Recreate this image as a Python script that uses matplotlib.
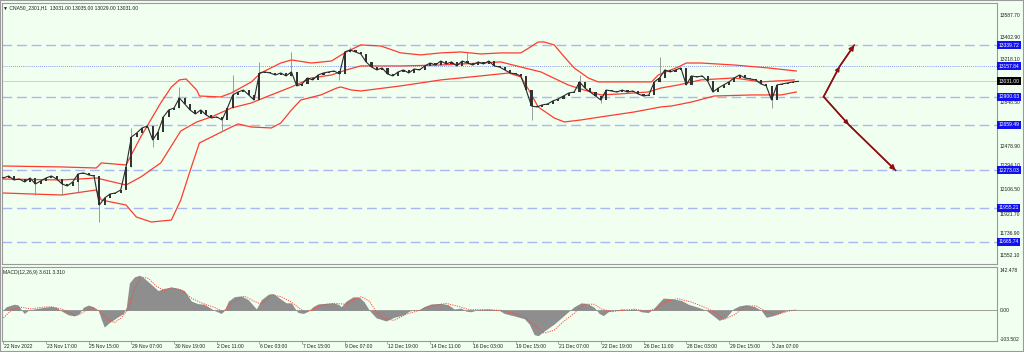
import matplotlib
matplotlib.use("Agg")
import matplotlib.pyplot as plt
from matplotlib import transforms
import matplotlib.patches as mpatches

plt.rcParams['font.family'] = ['Liberation Sans', 'DejaVu Sans']

# ---------------- data ----------------
bars_per_candle = 4
first_open = 12215
closes = [
    12208, 12225, 12191, 12199, 12174, 12208, 12157, 12182, 12208, 12225,
    12199, 12157, 12140, 12174, 12242, 12251, 12234, 12225, 11978, 12038,
    12072, 12080, 12106, 12302, 12557, 12591, 12634, 12651, 12532, 12600,
    12728, 12787, 12804, 12889, 12838, 12787, 12753, 12787, 12745, 12719,
    12728, 12702, 12804, 12915, 12940, 12957, 12915, 12872, 13102, 13111,
    13102, 13085, 13102, 13077, 13111, 12992, 13009, 13060, 13043, 13085,
    13102, 13111, 13119, 13094, 13281, 13298, 13281, 13264, 13196, 13153,
    13128, 13145, 13094, 13077, 13111, 13128, 13102, 13136, 13128, 13162,
    13187, 13170, 13204, 13179, 13196, 13162, 13204, 13187, 13170, 13196,
    13179, 13204, 13162, 13153, 13128, 13102, 13094, 13077, 12957, 12821,
    12813, 12830, 12838, 12864, 12881, 12906, 12932, 12940, 13026, 12974,
    12940, 12906, 12872, 12957, 12949, 12940, 12957, 12940, 12949, 12923,
    12906, 12915, 13026, 13060, 13128, 13111, 13128, 13145, 13000, 13077,
    13068, 13077, 13034, 12940, 12974, 13000, 13026, 13060, 13085, 13060,
    13051, 13043, 13009, 12992, 12872, 13000, 13009, 13017, 13026, 13031,
]
spike_high = {24: 12634, 33: 12983, 43: 13085, 48: 13196, 54: 13281, 65: 13324,
              87: 13281, 108: 13085, 123: 13239}
spike_low = {6: 12063, 11: 12063, 14: 12080, 18: 11833, 28: 12472, 41: 12617,
             63: 13043, 99: 12702, 112: 12847, 144: 12804}

bb_upper_x = [0, 43.5, 69.7, 73.5, 92, 103, 118, 126, 132, 137, 145, 147, 163, 171, 186, 193,
              208, 216, 231, 246, 257, 265, 268, 283, 298, 313, 328, 343, 358, 373, 388, 394,
              401, 405.5, 413, 420.6, 428, 438.5, 446, 473, 486, 491, 506, 512, 523, 548, 573.5, 594.5]
bb_upper = [12310, 12302, 12293, 12336, 12319, 12557, 12847, 12983, 13043, 13051, 12957, 12906,
            12898, 12932, 13026, 13102, 13187, 13213, 13187, 13204, 13281, 13324, 13341, 13332,
            13273, 13256, 13273, 13281, 13264, 13273, 13273, 13315, 13366, 13366, 13341, 13239,
            13145, 13060, 13026, 13026, 13026, 13085, 13153, 13187, 13187, 13170, 13145, 13119]

bb_mid_x = [0, 43.5, 69.7, 92, 103, 118, 133, 145, 156, 171, 186, 197, 216, 231, 246, 257, 268,
            298, 328, 358, 373, 388, 403, 423.5, 435.5, 448, 461, 483.5, 493, 506, 523, 548, 568, 593]
bb_mid = [12199, 12191, 12208, 12148, 12216, 12336, 12608, 12685, 12728, 12804, 12847, 12898,
          12983, 13060, 13085, 13128, 13162, 13162, 13170, 13187, 13196, 13153, 13111, 13000,
          12957, 12915, 12923, 12940, 12974, 13000, 13043, 13060, 13026, 13043]

bb_lower_x = [0, 43.5, 69.7, 73.5, 92, 99.7, 111, 126, 133, 141, 147, 156, 171, 176, 186, 201,
              208, 216, 223, 238, 250, 253, 261, 268, 298, 328, 358, 379, 388, 394, 401, 413,
              420.6, 433, 448, 473, 493, 501, 516, 533, 561, 583, 594.5]
bb_lower = [12080, 12063, 12106, 12020, 11978, 11876, 11833, 11850, 12020, 12302, 12506, 12557,
            12642, 12668, 12642, 12634, 12676, 12787, 12872, 12915, 12974, 12983, 12957, 12949,
            12992, 13043, 13077, 13102, 13068, 12957, 12813, 12719, 12685, 12702, 12728, 12770,
            12813, 12821, 12855, 12906, 12915, 12915, 12940]

levels_dashed = [13339.72, 12900.03, 12659.49, 12273.03, 11955.21, 11665.74]
level_dotted = 13157.84
last_price = 13031.00
price_ticks = [13587.70, 13402.90, 13218.10, 12848.50, 12478.90, 12294.10,
               12106.50, 11921.70, 11736.90, 11552.10]

x_tick_bars = [0, 32, 64, 96, 128, 160, 192, 224, 256, 288, 320, 352, 384, 416, 448, 480,
               512, 544, 576]
x_tick_labels = ["22 Nov 2022", "23 Nov 17:00", "25 Nov 15:00", "29 Nov 07:00", "30 Nov 19:00",
                 "2 Dec 11:00", "6 Dec 03:00", "7 Dec 15:00", "9 Dec 07:00", "12 Dec 19:00",
                 "14 Dec 11:00", "16 Dec 03:00", "19 Dec 15:00", "21 Dec 07:00", "22 Dec 19:00",
                 "26 Dec 11:00", "28 Dec 03:00", "29 Dec 15:00", "3 Jan 07:00"]

macd_x = [0, 2.2, 8.2, 11.2, 13.5, 15.7, 18.7, 23.2, 30.7, 36, 39.7, 43.5, 48.7, 53.2, 57, 60,
          63.7, 67.5, 71.2, 73.5, 75.7, 79.5, 84.7, 90, 92.2, 94.5, 98.2, 102, 105.7, 111, 116,
          120.7, 126, 131, 135.7, 141, 146, 150.7, 158, 163.4, 165.7, 168.7, 173.2, 178.4, 183.7,
          189.7, 193.4, 198.7, 202.4, 207, 212, 216, 218, 221, 225, 228.6, 232.4, 236, 241, 247,
          251, 253.4, 257, 262.4, 267, 270.6, 274.4, 279.6, 287, 293, 300, 304.3, 307.3, 311,
          315.6, 320.8, 328.3, 333.6, 338, 343.3, 347, 350.8, 356, 363.6, 371, 375.6, 383, 390.6,
          394.3, 398, 401, 405.5, 413, 418.3, 423.6, 428, 433.3, 438.5, 443, 446.7, 449.8, 453.5,
          458, 463.3, 468.5, 473, 478.3, 483.5, 487.3, 491, 494.8, 500.7, 508.2, 513.5, 521, 527,
          532.2, 536.7, 542, 547.2, 551.7, 557, 563, 568.2, 572, 577.2, 583.2, 588.5, 593]
macd_hist = [2, 13, 22, 19, 2, -11, 0, 5, 11, 14, 11, -2, -16, -20, -11, 11,
             19, 13, 0, -33, -60, -44, -27, -11, 11, 98, 120, 126, 115, 93, 71,
             79, 84, 79, 71, 33, 24, 22, 0, -11, 0, 33, 49, 52, 38,
             5, 38, 58, 60, 44, 27, 27, 11, -8, -11, -3, 14, 23, 25, 27,
             22, 13, 33, 49, 47, 30, 0, -27, -38, -25, -16, -3, 2, 0,
             14, 23, 25, 20, 5, 8, -3, -5, 3, 5, 2, -11, -20, -30,
             -49, -87, -91, -74, -49, -27, -5, 13, 27, 23, 11, -11, -19, -5,
             0, 5, 2, 5, -5, -8, 5, 25, 44, 42, 36, 22, 11, 0,
             -19, -36, -25, 5, 16, 20, 14, 0, -25, -19, -8, 2, 2]

signal_x = [0, 6, 13.5, 21, 28.5, 36, 43.5, 51, 54.7, 58.5, 66, 71.2, 78.7, 83.2, 88.5, 93.7,
            98.2, 103.4, 108.7, 114.7, 120.7, 126, 133.4, 141, 148.4, 158, 165, 171, 180.7, 188,
            193.4, 201, 208.4, 216, 221, 225.6, 231, 238.4, 248, 257, 263, 268.4, 274.4, 279.6,
            285.6, 293, 302, 312, 321, 332, 339.6, 349.3, 362, 373.3, 383, 392, 399.6, 405.5,
            413, 420.5, 428, 435.5, 443, 448.4, 456, 463.3, 473, 482, 489.5, 497, 506, 515.7,
            523.3, 533, 540.4, 548, 557, 564.5, 572, 579.5, 588.5, 594.5]
signal = [-27, 0, 11, 5, 11, 13, 5, -11, -19, -11, 11, 0, -33, -44, -27, 5,
          76, 120, 115, 87, 71, 80, 74, 44, 27, 11, -5, 27, 51, 33,
          22, 55, 49, 30, 11, -5, 0, 19, 25, 22, 38, 49, 33, -5,
          -30, -36, -14, 0, 16, 25, 16, 3, 2, 0, -11, -27, -60, -82,
          -71, -38, -11, 22, 22, 5, -5, 0, 4, -2, 5, 33, 42, 30,
          16, -5, -33, -16, 16, 16, -5, -16, -3, 2]
macd_ticks = [142.478, 0.00, -103.502]

forecast_up_x = [615, 627, 638]
forecast_up_y = [12900.03, 13157.84, 13339.72]
forecast_down_x = [615, 634, 669]
forecast_down_y = [12900.03, 12659.49, 12273.03]

# ---------------- style ----------------
BG = "#F0FFF0"
FRAME = "#9a9a9a"
FS = 3.6
W, H = 1024, 352

fig = plt.figure(figsize=(W / 100, H / 100), dpi=100, facecolor=BG)

def fbox(x0, y0, x1, y1):
    return [x0 / W, 1 - y1 / H, (x1 - x0) / W, (y1 - y0) / H]

ax = fig.add_axes(fbox(2, 3, 997, 264))
ax2 = fig.add_axes(fbox(2, 267, 997, 341), sharex=ax)
for a in (ax, ax2):
    a.set_facecolor(BG)
    for s in a.spines.values():
        s.set_color(FRAME)
        s.set_linewidth(0.8)
    a.tick_params(left=False, right=False, labelleft=False, labelbottom=False,
                  bottom=False, top=False)

ax.set_xlim(-1, 745)
ax.set_ylim(11475.5, 13698)
ax2.set_ylim(-110, 155.6)

# levels
for lv in levels_dashed:
    ax.axhline(lv, color="#A9B7F4", lw=1.0, ls=(0, (7, 3.5)), zorder=1)
ax.axhline(level_dotted, color="#6474F0", lw=0.6, ls=(0, (1, 1.5)), zorder=1)
ax.axhline(last_price, color="#C8C8C8", lw=0.6, zorder=1)

# bollinger bands
ax.plot(bb_upper_x, bb_upper, color="#FF3B30", lw=0.9, zorder=3)
ax.plot(bb_mid_x, bb_mid, color="#FF3B30", lw=0.9, zorder=3)
ax.plot(bb_lower_x, bb_lower, color="#FF3B30", lw=0.9, zorder=3)

# candles
opens = [first_open] + closes[:-1]
candle_x = [k * bars_per_candle for k in range(len(closes))]
for k, (x, o, c) in enumerate(zip(candle_x, opens, closes)):
    lo, hi = min(o, c), max(o, c)
    h = spike_high.get(k, hi)
    l = spike_low.get(k, lo)
    if h > hi or l < lo:
        ax.vlines(x, l, h, color="#8c8c8c", lw=0.6, zorder=4)
    ax.bar(x, max(hi - lo, 6), bottom=lo, width=1.6, color="#333333", lw=0, zorder=5)
ax.plot(candle_x, closes, color="#2a2a2a", lw=0.8, zorder=5)

# forecast arrows
RED = "#8B1010"
ax.plot(forecast_up_x, forecast_up_y, color=RED, lw=1.1, zorder=6)
ax.plot(forecast_down_x, forecast_down_y, color=RED, lw=1.1, zorder=6)
for xs, ys in ((forecast_up_x, forecast_up_y), (forecast_down_x, forecast_down_y)):
    ax.annotate("", xy=(xs[2], ys[2]), xytext=(xs[1], ys[1]),
                arrowprops=dict(arrowstyle="-|>,head_length=0.3,head_width=0.15",
                                color=RED, lw=1.1, shrinkA=0, shrinkB=0), zorder=7)
    ax.annotate("", xy=(xs[1], ys[1]), xytext=(xs[0], ys[0]),
                arrowprops=dict(arrowstyle="-|>,head_length=0.25,head_width=0.12",
                                color=RED, lw=1.1, shrinkA=0, shrinkB=0), zorder=7)

# right price labels
tr = transforms.blended_transform_factory(ax.transAxes, ax.transData)
valign = {12294.10: "bottom", 11921.70: "top"}
for v in price_ticks:
    ax.text(1.0025, v, f"{v:.2f}", transform=tr, fontsize=FS, va=valign.get(v, "center"),
            ha="left", color="#202020", clip_on=False, zorder=8)
for v in levels_dashed + [level_dotted]:
    ax.text(1.0015, v, f"{v:.2f}", transform=tr, fontsize=FS, va="center", ha="left",
            color="white", clip_on=False, zorder=9,
            bbox=dict(boxstyle="square,pad=0.3", fc="#1010F0", ec="none"))
ax.text(1.0015, last_price, f"{last_price:.2f}", transform=tr, fontsize=FS, va="center",
        ha="left", color="white", clip_on=False, zorder=9,
        bbox=dict(boxstyle="square,pad=0.3", fc="#000000", ec="none"))

ax.text(0.0015, 0.992, "▼ CNA50_2301,H1  13031.00 13035.00 13029.00 13031.00",
        transform=ax.transAxes, fontsize=FS, va="top", ha="left", color="#202020")

# MACD panel
ax2.fill_between(macd_x, 0, macd_hist, color="#8E8E8E", lw=0, zorder=2)
ax2.axhline(0, color="#8E8E8E", lw=0.6, zorder=2)
ax2.plot(signal_x, signal, color="#FF4A3A", lw=0.7, ls=(0, (1.2, 1.2)), zorder=3)
ax2.text(0.0015, 0.96, "MACD(12,26,9) 3.611 3.310", transform=ax2.transAxes, fontsize=FS,
         va="top", ha="left", color="#202020")
tr2 = transforms.blended_transform_factory(ax2.transAxes, ax2.transData)
for v, lab in zip(macd_ticks, ["142.478", "0.00", "-103.502"]):
    ax2.text(1.0025, v, lab, transform=tr2, fontsize=FS, va="center", ha="left",
             color="#202020", clip_on=False)

# x ticks & labels
ax2.set_xticks(x_tick_bars)
ax2.tick_params(axis="x", bottom=True, length=2, width=0.6, color=FRAME, labelbottom=False)
trx = transforms.blended_transform_factory(ax2.transData, ax2.transAxes)
for xb, lab in zip(x_tick_bars, x_tick_labels):
    ax2.text(xb + 0.5, -0.04, lab, transform=trx, fontsize=FS, va="top", ha="left",
             color="#202020", clip_on=False)

# outer frame
fig.add_artist(mpatches.Rectangle((0, 0), 1, 1, transform=fig.transFigure, fill=False,
                                  ec=FRAME, lw=1.5))

fig.savefig("out.png", dpi=100, facecolor=BG)
